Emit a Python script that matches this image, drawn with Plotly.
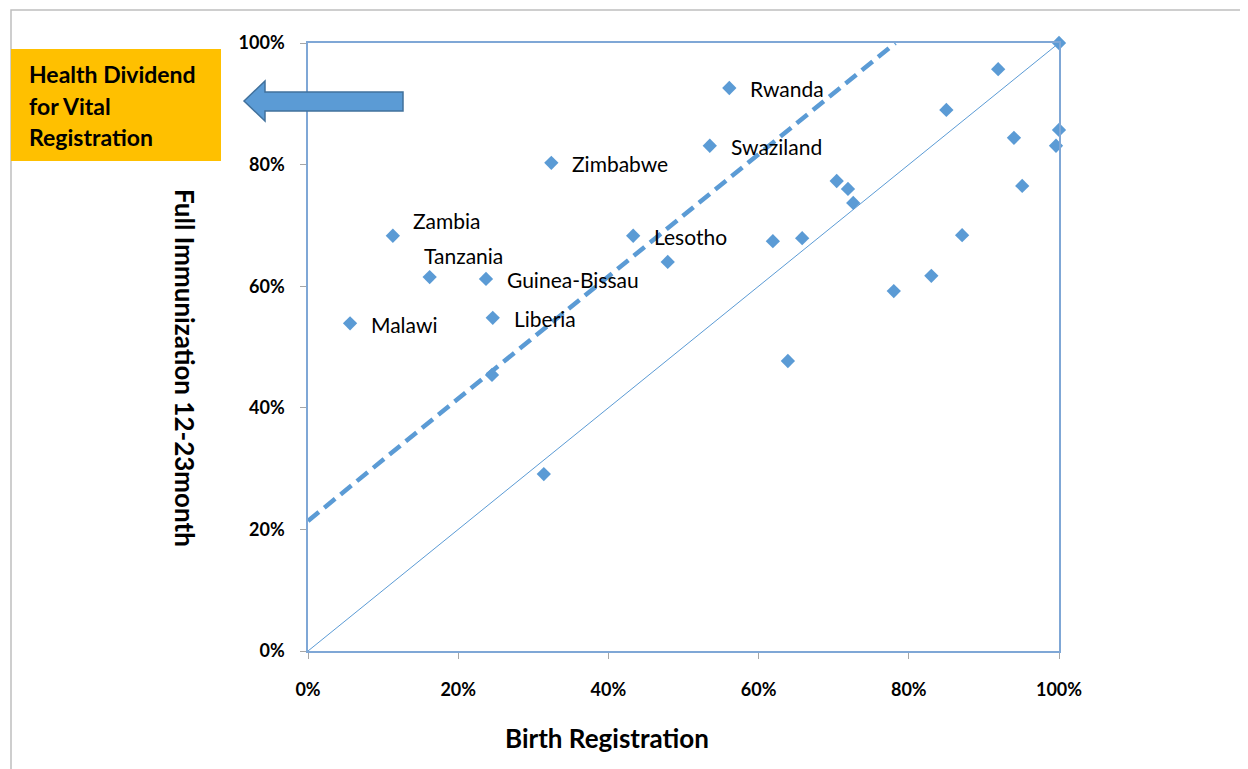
import plotly.graph_objects as go

# ---- data ----
labeled_names = ["Rwanda", "Swaziland", "Zimbabwe", "Zambia", "Tanzania",
                 "Guinea-Bissau", "Malawi", "Liberia", "Lesotho"]
labeled_birth = [0.561, 0.535, 0.324, 0.113, 0.162, 0.237, 0.056, 0.246, 0.433]
labeled_immun = [0.926, 0.831, 0.803, 0.683, 0.615, 0.612, 0.539, 0.548, 0.683]

other_birth = [0.479, 0.245, 0.314, 1.000, 0.919, 0.850, 0.940, 1.000, 0.996,
               0.951, 0.704, 0.719, 0.726, 0.619, 0.658, 0.871, 0.830, 0.780, 0.639]
other_immun = [0.640, 0.454, 0.291, 1.000, 0.957, 0.890, 0.844, 0.857, 0.831,
               0.765, 0.773, 0.760, 0.737, 0.674, 0.679, 0.684, 0.617, 0.592, 0.477]

trend_x = [0.0, 0.782]
trend_y = [0.214, 1.0]
diag_x = [0.0, 1.0]
diag_y = [0.0, 1.0]

x_ticks = [0, 0.2, 0.4, 0.6, 0.8, 1.0]
y_ticks = [0, 0.2, 0.4, 0.6, 0.8, 1.0]

BLUE = "#5B9BD5"
FONT = "Lato"

OFF = 8  # page body margin
W, H = 1248 - OFF, 769 - OFF
L, R, T, B = 308, 1059, 43, 651  # plot area in screen pixels


def px(xp):
    return (xp - L) / (R - L)


def py(yp):
    return (B - yp) / (B - T)


fig = go.Figure()

fig.add_trace(go.Scatter(x=diag_x, y=diag_y, mode="lines",
                         line=dict(color=BLUE, width=1), hoverinfo="skip",
                         showlegend=False))
fig.add_trace(go.Scatter(x=trend_x, y=trend_y, mode="lines",
                         line=dict(color=BLUE, width=4.5, dash="14px,7px"),
                         hoverinfo="skip", showlegend=False))
fig.add_trace(go.Scatter(x=other_birth, y=other_immun, mode="markers",
                         marker=dict(symbol="diamond", size=11, color=BLUE),
                         cliponaxis=False, showlegend=False))
fig.add_trace(go.Scatter(x=labeled_birth, y=labeled_immun, mode="markers",
                         marker=dict(symbol="diamond", size=11, color=BLUE),
                         cliponaxis=False, showlegend=False))

# label offsets (pixels) relative to the marker
offsets = {
    "Zambia": (18, 15),
    "Tanzania": (-8, 22),
}
annotations = []
for n, xv, yv in zip(labeled_names, labeled_birth, labeled_immun):
    dx, dy = offsets.get(n, (19, -1))
    annotations.append(dict(x=xv, y=yv, xref="x", yref="y", text=n,
                            showarrow=False, xanchor="left", yanchor="middle",
                            xshift=dx, yshift=dy,
                            font=dict(family=FONT, size=21, color="#000000")))

# orange text box lines
for i, line in enumerate(["Health Dividend", "for Vital", "Registration"]):
    annotations.append(dict(x=px(27), y=py(74 + 31.5 * i), xref="paper", yref="paper",
                            text="<b>%s</b>" % line, showarrow=False,
                            xanchor="left", yanchor="middle",
                            font=dict(family=FONT, size=23, color="#000000")))

# axis titles
annotations.append(dict(x=px(185), y=py(368), xref="paper", yref="paper",
                        text="<b>Full Immunization 12-23month</b>", textangle=90,
                        showarrow=False, xanchor="center", yanchor="middle",
                        font=dict(family=FONT, size=26, color="#000000")))
annotations.append(dict(x=px(607), y=py(738), xref="paper", yref="paper",
                        text="<b>Birth Registration</b>",
                        showarrow=False, xanchor="center", yanchor="middle",
                        font=dict(family=FONT, size=26, color="#000000")))

# arrow path
pts = [(244, 101), (265, 81), (265, 92), (403, 92), (403, 111), (265, 111), (265, 121)]
path = "M " + " L ".join("%.5f,%.5f" % (px(a), py(b)) for a, b in pts) + " Z"

shapes = [
    # outer chart border (top and left visible)
    dict(type="rect", xref="paper", yref="paper", x0=px(11), x1=px(1270),
         y0=py(790), y1=py(10), line=dict(color="#BFBFBF", width=1.5),
         fillcolor="rgba(0,0,0,0)", layer="below"),
    # orange box
    dict(type="rect", xref="paper", yref="paper", x0=px(11), x1=px(221),
         y0=py(161), y1=py(49), line=dict(width=0), fillcolor="#FFC000"),
    dict(type="path", xref="paper", yref="paper", path=path,
         fillcolor=BLUE, line=dict(color="#41719C", width=1.5)),
]

fig.update_layout(
    width=W, height=H,
    margin=dict(l=L - OFF, r=(1248 - R), t=T - OFF, b=(769 - B), pad=0),
    paper_bgcolor="white", plot_bgcolor="white",
    showlegend=False,
    annotations=annotations,
    shapes=shapes,
    font=dict(family=FONT),
)
axis_common = dict(range=[0, 1], tickformat=".0%", showgrid=False, zeroline=False,
                   showline=True, linecolor="#7FA7D6", linewidth=1.5, mirror=True,
                   ticks="outside", ticklen=6, tickcolor="#A6A6A6",
                   tickfont=dict(family=FONT, size=18, color="#000000", weight="bold"),
                   ticklabelstandoff=12, fixedrange=True)
fig.update_xaxes(tickvals=x_ticks, **axis_common)
fig.update_yaxes(tickvals=y_ticks, **axis_common)
fig.update_xaxes(ticklabelstandoff=16)

fig.write_html("out.html")
